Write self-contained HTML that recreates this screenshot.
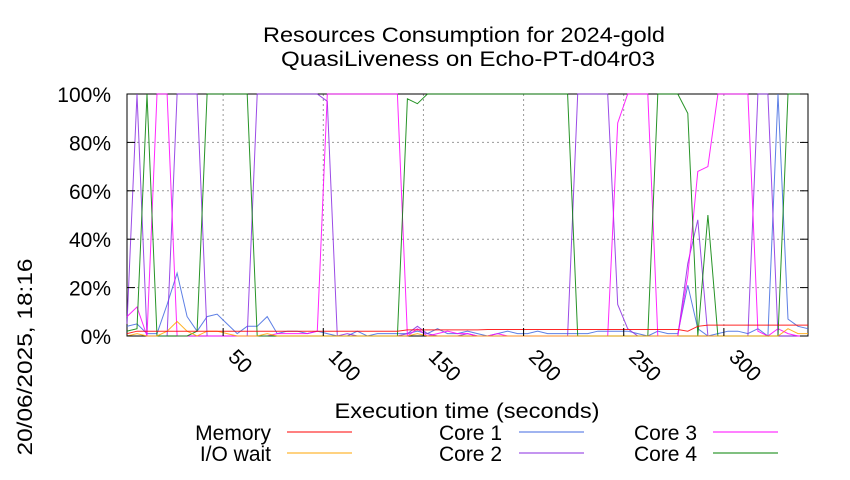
<!DOCTYPE html>
<html><head><meta charset="utf-8"><style>
html,body{margin:0;padding:0;background:#fff;}
svg text{font-family:"Liberation Sans",sans-serif;fill:#000;}
</style></head><body>
<svg id="chart" width="850" height="475" viewBox="0 0 850 475" xmlns="http://www.w3.org/2000/svg">
<rect width="850" height="475" fill="#fff"/>
<text x="464" y="42" font-size="21" text-anchor="middle" textLength="402" lengthAdjust="spacingAndGlyphs">Resources Consumption for 2024-gold</text>
<text x="468" y="66" font-size="21" text-anchor="middle" textLength="374" lengthAdjust="spacingAndGlyphs">QuasiLiveness on Echo-PT-d04r03</text>
<text transform="translate(32,357) rotate(-90)" font-size="21" text-anchor="middle" textLength="197" lengthAdjust="spacingAndGlyphs">20/06/2025, 18:16</text>
<text x="467" y="418" font-size="21" text-anchor="middle" textLength="265" lengthAdjust="spacingAndGlyphs">Execution time (seconds)</text>
<g id="grid"></g>
<rect x="127" y="94" width="681" height="242" fill="none" stroke="#000" stroke-width="1"/>
<g id="series"></g>
<g id="ticks"></g>
<g id="legend"></g>
</svg>
<script>
const times = [2,7,12,17,22,27,32,37,42,47,52,57,62,67,72,77,82,87,92,97,102,107,112,117,122,127,132,137,142,147,152,157,162,167,172,177,182,187,192,197,202,207,212,217,222,227,232,237,242,247,252,257,262,267,272,277,282,287,292,297,302,307,312,317,322,327,332,337,342];
const memory = [1,2,2,2,2,2,2,2,2,2,2,2,2,2,2,2,2,2,2,2,2,2,2,2,2,2,2,2,2.5,2.5,2.5,2.5,2.5,2.5,2.5,2.5,2.7,2.7,2.7,2.7,2.7,2.7,2.7,2.7,2.7,2.7,2.7,2.7,2.7,2.7,2.7,2.7,2.7,2.7,2.7,2.7,2,4,4.5,4.5,4.5,4.5,4.5,4.5,4.5,4.5,4.5,4.5,4.5];
const iowait = [0,1,0,0,2,6,2,0,2,2,1,0,0,0,1,0,0,0,0,0,0,0,0,0,0,0,0,0,0,1,0,0,0,0,0,0,0,0,0,0,0,0,0,0,0,0,0,0,0,0,0,0,0,0,0,0,0,0,0,0,0,0,0,0,0,0,3,1,1];
const core1 = [4,5,1,1,13,26,8,2,8,9,5,1,4,4,8,1,2,2,1,2,1,0,0,2,0,1,1,1,1,2,1,3,1,1,2,1,0,1,2,1,1,2,1,1,1,1,1,2,2,2,2,1,0,2,1,1,21,3,0,1,2,2,1,3,0,100,7,4,3];
const core2 = [5,100,0,0,0,100,100,100,0,0,0,0,0,100,100,100,100,100,100,100,97,0,1,0,0,0,0,0,1,4,1,0,0,0,1,0,0,0,0,0,0,0,0,0,0,100,100,100,100,13,3,0,0,0,0,0,30,48,0,0,0,0,0,100,100,0,0,0,0];
const core3 = [8,12,0,100,100,0,0,0,0,0,0,0,0,0,0,1,1,1,1,2,100,100,100,100,100,100,100,100,0,3,0,1,2,1,1,0,0,1,0,0,0,0,0,0,0,0,0,0,0,88,100,100,100,0,0,0,25,68,70,100,100,100,100,2,0,3,1,0,0];
const core4 = [2,3,100,0,0,0,0,2,100,100,100,100,100,0,0,0,0,0,0,0,0,0,0,0,0,0,0,0,98,96,100,100,100,100,100,100,100,100,100,100,100,100,100,100,100,0,0,0,0,0,0,0,0,100,100,100,92,0,50,0,0,0,0,0,0,0,100,100,100];
const xTicks = [50,100,150,200,250,300];
const yTicks = [0,20,40,60,80,100];

const L=127,R=808,T=94,B=336,X0=2,X1=342;
const xs=v=>L+(v-X0)/(X1-X0)*(R-L);
const ys=v=>B-v/100*(B-T);
const NS='http://www.w3.org/2000/svg';
function mk(tag,attrs,parent){const e=document.createElementNS(NS,tag);for(const k in attrs)e.setAttribute(k,attrs[k]);parent.appendChild(e);return e;}
const grid=document.getElementById('grid'),ticks=document.getElementById('ticks');
yTicks.forEach(v=>{
  const y=ys(v);
  if(v>0&&v<100){const g=mk('line',{x1:L,x2:R,y1:y,y2:y,stroke:'#999','stroke-dasharray':'2,3','stroke-width':1},grid);
  
  }
  const t1=mk('line',{x1:L,x2:L+8,y1:y,y2:y,stroke:'#000'},ticks);
  
  
  const t2=mk('line',{x1:R-8,x2:R,y1:y,y2:y,stroke:'#000'},ticks);
  
  
  const tx=mk('text',{x:111,y:y+8,'font-size':21,'text-anchor':'end'},ticks);tx.textContent=v+'%';
  
  
});
xTicks.forEach(v=>{
  const x=xs(v);
  const g=mk('line',{x1:x,x2:x,y1:T,y2:B,stroke:'#999','stroke-dasharray':'2,3','stroke-width':1},grid);
  
  
  const t1=mk('line',{x1:x,x2:x,y1:B-8,y2:B,stroke:'#000'},ticks);
  
  
  const tx=mk('text',{transform:`translate(${x+4},${B+22}) rotate(45)`,'font-size':21},ticks);tx.textContent=v;
  
  
});
const series=[['memory',memory,'#ff0000'],['iowait',iowait,'#ffa500'],['core1',core1,'#4169e1'],['core2',core2,'#8a2be2'],['core3',core3,'#ff00ff'],['core4',core4,'#008000']];
const sg=document.getElementById('series');
[['core1',core1,'#4169e1'],['core2',core2,'#8a2be2'],['core3',core3,'#ff00ff'],['core4',core4,'#008000'],['iowait',iowait,'#ffa500'],['memory',memory,'#ff0000']].forEach(s=>{
  const pts=s[1].map((v,i)=>xs(times[i]).toFixed(1)+','+ys(v).toFixed(1)).join(' ');
  const p=mk('polyline',{points:pts,fill:'none',stroke:s[2],'stroke-width':1,'stroke-opacity':0.85},sg);
  
  
});
const lg=document.getElementById('legend');
const legendPos=[[271,287,432],[271,287,453],[502,519,432],[502,519,453],[697,713,432],[697,713,453]];
const legendNames=['Memory','I/O wait','Core 1','Core 2','Core 3','Core 4'];
series.forEach((s,i)=>{
  const [tx,lx,y]=legendPos[i];
  const t=mk('text',{x:tx,y:y+8,'font-size':21,'text-anchor':'end'},lg);t.textContent=legendNames[i];
  
  
  const l=mk('line',{x1:lx,x2:lx+65,y1:y,y2:y,stroke:s[2],'stroke-width':1},lg);
  
  
});
</script>
</body></html>
